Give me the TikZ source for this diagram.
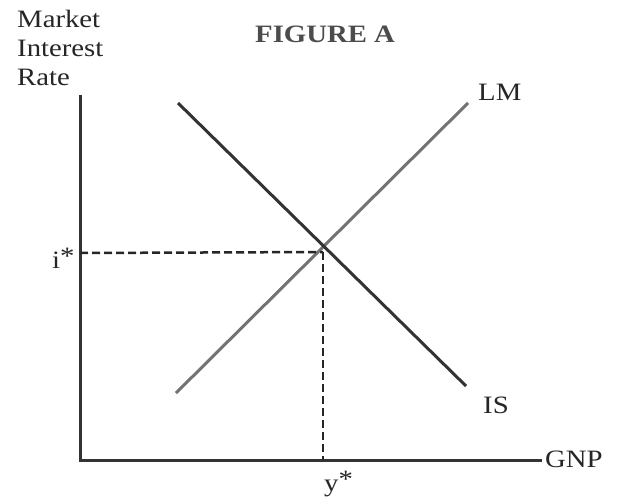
\documentclass[tikz,border=0pt]{standalone}
\usepackage{fontspec}
\setmainfont[FakeStretch=1.15]{Liberation Serif}
\begin{document}
\begin{tikzpicture}[x=1pt,y=-1pt,
  axis/.style={line width=3pt,draw=black!80},
  curve/.style={line width=3pt},
  guide/.style={line width=2.5pt,dash pattern=on 8pt off 4pt,draw=black!85},
  lbl/.style={font=\fontsize{25}{29}\selectfont,inner sep=0pt,text=black!85}]
\useasboundingbox (0,0) rectangle (617,498);
\coordinate (top) at (80,95);
\coordinate (origin) at (80,460);
\coordinate (xend) at (542,460);
\coordinate (lmA) at (176,393);
\coordinate (lmB) at (468,103);
\coordinate (isA) at (178,103);
\coordinate (isB) at (466,386);
\coordinate (eq) at (323,252);
\coordinate (iax) at (80,253);
\coordinate (yax) at (323,460);
\draw[axis] (top) -- (origin) -- (xend);
\draw[curve,draw=black!55] (lmA) -- (lmB);
\draw[curve,draw=black!80] (isA) -- (isB);
\draw[guide] (iax) -- (eq);
\draw[guide] (eq) -- (yax);
\node[lbl,anchor=base west] (gnp) at (545,467) {GNP};
\node[lbl,anchor=base west] (lm) at (478,100) {LM};
\node[lbl,anchor=base west] (is) at (483,413) {IS};
\node[lbl,anchor=base west] (istar) at (52,268) {i\raisebox{4pt}{*}};
\node[lbl,anchor=base west] (ystar) at (324,491) {y\raisebox{4pt}{*}};
\node[lbl,anchor=base west,align=left] (ylab) at (17,85) {Market\\Interest\\Rate};
\node[lbl,anchor=base west,font=\fontsize{25}{29}\selectfont\bfseries,text=black!70] (title) at (255,42) {FIGURE A};
\end{tikzpicture}
\end{document}
